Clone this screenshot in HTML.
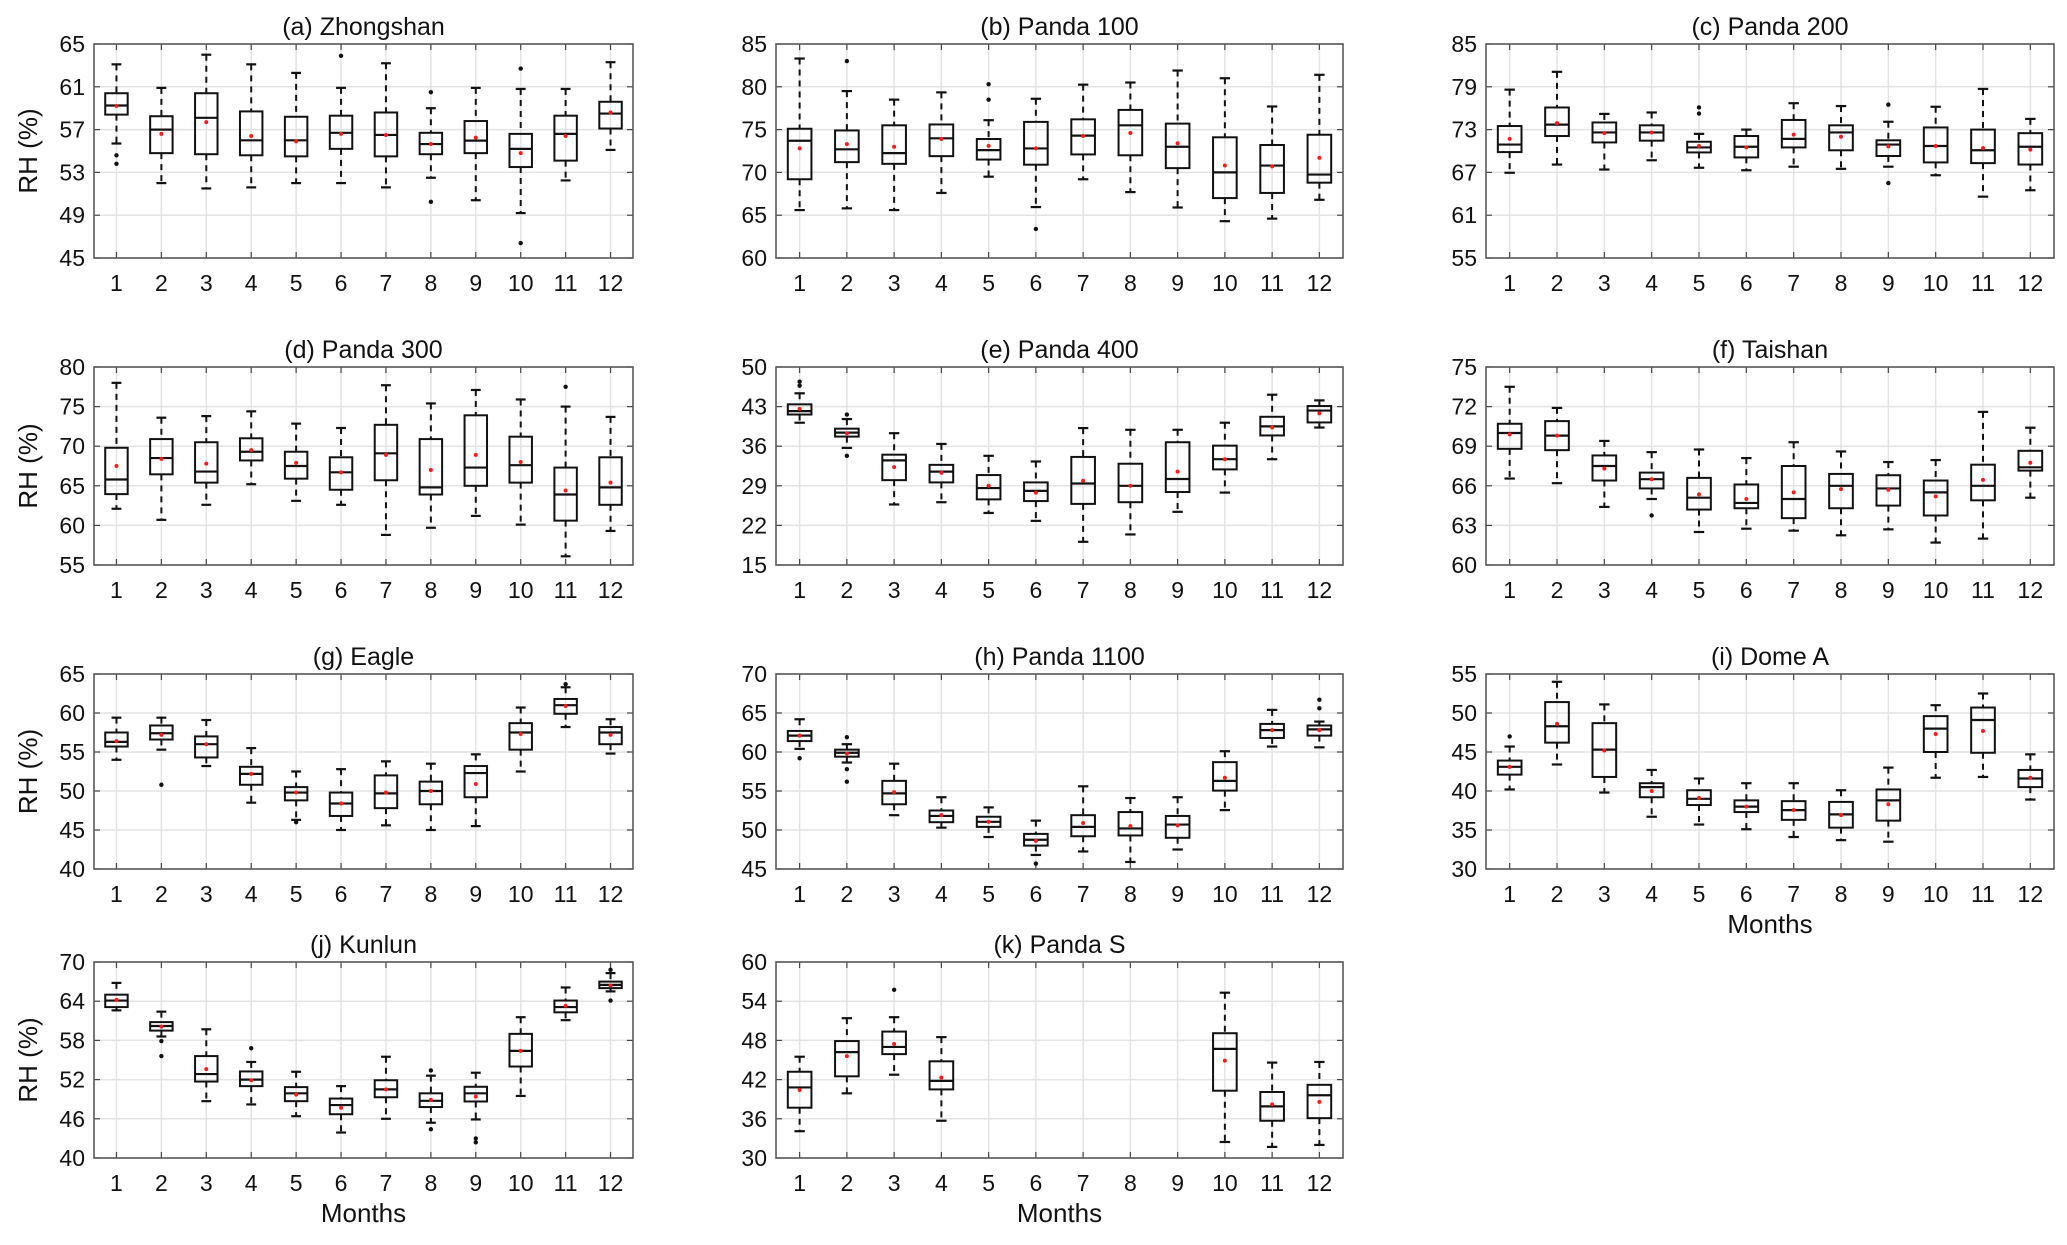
<!DOCTYPE html>
<html><head><meta charset="utf-8"><style>
html,body{margin:0;padding:0;background:#fff;}
svg text{font-family:"Liberation Sans",Arial,sans-serif;fill:#111;}
</style></head><body>
<svg id="fig" xmlns="http://www.w3.org/2000/svg" width="2067" height="1240" viewBox="0 0 2067 1240">
<rect x="0" y="0" width="2067" height="1240" fill="#fff"/>
</svg>
<script>
// each month: [lowWhisker, q1, median, q3, highWhisker, mean]
const months = [1,2,3,4,5,6,7,8,9,10,11,12];
const zhongshan = [[55.7,58.4,59.25,60.4,63.1,59.2],[52.0,54.8,57.0,58.25,60.9,56.6],[51.5,54.7,58.1,60.4,64.0,57.7],[51.6,54.6,56.0,58.7,63.1,56.4],[52.0,54.5,56.0,58.2,62.3,55.9],[52.0,55.2,56.7,58.3,60.9,56.6],[51.6,54.5,56.5,58.6,63.2,56.5],[52.5,54.7,55.65,56.7,59.0,55.65],[50.4,54.8,55.97,57.8,60.9,56.25],[49.2,53.5,55.2,56.6,60.8,54.8],[52.25,54.1,56.6,58.3,60.8,56.4],[55.1,57.1,58.5,59.6,63.3,58.6]];
const zhongshanOut = [[1,54.6],[1,53.8],[6,63.9],[8,60.5],[8,50.25],[10,62.7],[10,46.4]];
const zhongshanTicks = [45,49,53,57,61,65];
const panda100 = [[65.6,69.2,73.7,75.1,83.3,72.8],[65.8,71.2,72.7,74.9,79.5,73.3],[65.6,71.0,72.25,75.5,78.5,73.0],[67.6,71.9,73.98,75.6,79.35,73.9],[69.5,71.5,72.6,73.9,76.1,73.1],[65.95,70.9,72.8,75.9,78.6,72.8],[69.2,72.1,74.3,76.2,80.25,74.25],[67.7,72.0,75.5,77.3,80.5,74.6],[65.9,70.5,73.0,75.7,81.9,73.4],[64.3,67.0,70.0,74.1,81.0,70.8],[64.6,67.6,70.8,73.2,77.7,70.7],[66.8,68.8,69.75,74.4,81.4,71.7]];
const panda100Out = [[2,83.0],[5,80.3],[5,78.5],[6,63.4]];
const panda100Ticks = [60,65,70,75,80,85];
const panda200 = [[66.95,69.85,70.9,73.5,78.6,71.7],[68.1,72.1,73.7,76.1,81.1,73.9],[67.4,71.2,72.6,74.0,75.2,72.5],[68.7,71.45,72.6,73.6,75.4,72.6],[67.65,69.8,70.5,71.3,72.4,70.7],[67.3,69.1,70.6,72.1,73.0,70.5],[67.8,70.5,71.7,74.35,76.7,72.3],[67.5,70.1,72.6,73.6,76.3,72.0],[67.8,69.3,70.9,71.5,74.1,70.65],[66.6,68.4,70.7,73.3,76.2,70.7],[63.6,68.3,70.1,73.0,78.7,70.4],[64.5,68.1,70.6,72.5,74.5,70.2]];
const panda200Out = [[5,76.1],[5,75.25],[9,76.5],[9,65.5]];
const panda200Ticks = [55,61,67,73,79,85];
const panda300 = [[62.1,63.95,65.8,69.8,78.0,67.5],[60.7,66.45,68.5,70.9,73.6,68.4],[62.6,65.4,66.8,70.5,73.8,67.8],[65.2,68.2,69.3,71.0,74.4,69.5],[63.1,65.9,67.5,69.3,72.85,67.9],[62.6,64.5,66.7,68.6,72.3,66.7],[58.8,65.7,69.1,72.7,77.7,68.9],[59.7,63.9,64.8,70.9,75.4,67.0],[61.2,65.0,67.3,73.9,77.1,68.9],[60.1,65.4,67.6,71.2,75.9,68.0],[56.1,60.6,63.9,67.3,75.0,64.4],[59.3,62.6,64.8,68.6,73.7,65.4]];
const panda300Out = [[11,77.5]];
const panda300Ticks = [55,60,65,70,75,80];
const panda400 = [[40.15,41.6,42.2,43.4,45.35,42.6],[35.7,37.7,38.4,39.1,40.8,38.3],[25.7,30.0,33.5,34.5,38.3,32.3],[26.1,29.6,31.5,32.7,36.4,31.3],[24.2,26.6,28.6,30.9,34.3,29.0],[22.8,26.3,28.1,29.6,33.3,27.8],[19.1,25.8,29.4,34.1,39.2,29.9],[20.4,26.1,29.0,32.9,38.9,29.0],[24.4,27.9,30.2,36.7,38.9,31.5],[27.8,31.9,33.7,36.1,40.15,33.7],[33.7,37.9,39.5,41.2,45.1,39.3],[39.3,40.2,42.3,43.1,44.1,41.8]];
const panda400Out = [[1,47.4],[1,46.7],[2,41.6],[2,34.3]];
const panda400Ticks = [15,22,29,36,43,50];
const taishan = [[66.55,68.8,70.0,70.7,73.5,69.9],[66.2,68.7,69.8,70.9,71.9,69.8],[64.4,66.4,67.5,68.3,69.4,67.3],[65.0,65.8,66.5,67.0,68.55,66.5],[62.5,64.2,65.1,66.6,68.75,65.35],[62.75,64.3,64.7,66.1,68.1,65.0],[62.6,63.55,65.0,67.5,69.3,65.5],[62.25,64.3,66.0,66.9,68.6,65.75],[62.7,64.5,65.8,66.8,67.8,65.7],[61.7,63.75,65.5,66.4,67.95,65.2],[62.0,64.9,66.0,67.6,71.6,66.45],[65.1,67.15,67.4,68.65,70.4,67.75]];
const taishanOut = [[4,63.75]];
const taishanTicks = [60,63,66,69,72,75];
const eagle = [[54.0,55.7,56.3,57.5,59.4,56.4],[55.3,56.6,57.4,58.4,59.4,57.2],[53.2,54.3,56.0,57.0,59.1,56.0],[48.5,50.8,52.2,53.1,55.5,52.2],[46.3,48.8,49.8,50.5,52.5,49.8],[45.0,46.8,48.4,49.8,52.8,48.4],[45.6,47.8,49.7,52.0,53.8,49.8],[45.0,48.3,50.0,51.2,53.5,50.0],[45.5,49.2,52.3,53.2,54.7,50.9],[52.5,55.3,57.5,58.7,60.7,57.3],[58.2,59.9,61.0,61.8,63.3,60.9],[54.8,56.0,57.5,58.2,59.2,57.2]];
const eagleOut = [[2,50.8],[5,46.0],[11,63.7]];
const eagleTicks = [40,45,50,55,60,65];
const panda1100 = [[60.4,61.4,62.1,62.7,64.2,62.1],[58.65,59.4,59.9,60.3,61.0,59.8],[51.9,53.3,54.7,56.3,58.5,54.85],[50.3,51.0,51.8,52.5,54.2,51.9],[49.1,50.4,51.05,51.7,52.9,51.05],[46.8,48.0,48.75,49.5,51.2,48.6],[47.25,49.2,50.4,51.9,55.6,50.9],[45.9,49.3,50.2,52.3,54.1,50.5],[47.5,49.0,50.7,51.8,54.2,50.6],[52.55,55.05,56.3,58.7,60.1,56.7],[60.7,61.8,62.8,63.6,65.4,62.8],[60.6,62.1,62.9,63.4,63.9,62.8]];
const panda1100Out = [[1,59.2],[2,61.9],[2,57.8],[2,56.2],[6,45.7],[12,66.7],[12,65.6]];
const panda1100Ticks = [45,50,55,60,65,70];
const domeA = [[40.2,42.1,43.1,43.9,45.7,43.1],[43.4,46.2,48.3,51.4,54.0,48.6],[39.8,41.8,45.3,48.7,51.1,45.2],[36.7,39.2,40.5,41.0,42.7,40.0],[35.7,38.2,39.0,40.1,41.6,39.1],[35.1,37.3,38.0,38.8,41.0,38.0],[34.1,36.3,37.55,38.7,41.0,37.55],[33.7,35.3,37.0,38.6,40.1,36.9],[33.5,36.2,38.8,40.2,43.0,38.3],[41.7,45.0,48.0,49.6,51.0,47.3],[41.8,44.9,49.1,50.7,52.5,47.7],[38.9,40.5,41.6,42.7,44.7,41.7]];
const domeAOut = [[1,47.0]];
const domeATicks = [30,35,40,45,50,55];
const kunlun = [[62.6,63.1,64.1,65.0,66.8,64.2],[58.6,59.5,60.2,60.8,62.4,60.1],[48.7,51.7,52.85,55.6,59.7,53.6],[48.2,51.0,52.0,53.25,54.7,51.9],[46.4,48.7,49.9,50.85,53.2,49.7],[43.9,46.7,48.1,49.1,51.0,47.7],[46.0,49.3,50.5,51.9,55.5,50.5],[45.4,47.8,48.75,49.9,52.6,48.9],[45.9,48.65,49.9,50.9,53.05,49.4],[49.5,54.0,56.4,59.0,61.55,56.4],[61.1,62.3,63.1,64.1,66.1,63.3],[65.5,66.0,66.5,67.0,68.3,66.4]];
const kunlunOut = [[2,57.9],[2,55.6],[4,56.8],[8,53.4],[8,44.4],[9,43.0],[9,42.4],[12,68.8],[12,64.1]];
const kunlunTicks = [40,46,52,58,64,70];
const pandaS = [[34.1,37.7,40.8,43.2,45.5,40.4],[39.9,42.5,46.2,47.9,51.4,45.6],[42.75,45.9,47.0,49.35,51.55,47.45],[35.7,40.5,41.8,44.8,48.5,42.3],null,null,null,null,null,[32.45,40.3,46.7,49.1,55.3,44.9],[31.7,35.7,37.9,40.1,44.6,38.2],[32.0,36.1,39.6,41.2,44.7,38.6]];
const pandaSOut = [[3,55.75]];
const pandaSTicks = [30,36,42,48,54,60];

const SVGNS = "http://www.w3.org/2000/svg";
const svg = document.getElementById('fig');
function mk(tag, attrs, parent){
  const e = document.createElementNS(SVGNS, tag);
  for (const k in attrs) e.setAttribute(k, attrs[k]);
  (parent||svg).appendChild(e);
  return e;
}
const COLS = [[94,633],[776,1343],[1486,2054]];
const ROWS = [[44,258],[367,565],[674,869],[962,1158]];
const panels = [
  {id:'zhongshan', title:'(a) Zhongshan', c:0, r:0, d:zhongshan, o:zhongshanOut, t:zhongshanTicks, yl:true, xl:false},
  {id:'panda-100', title:'(b) Panda 100', c:1, r:0, d:panda100, o:panda100Out, t:panda100Ticks, yl:false, xl:false},
  {id:'panda-200', title:'(c) Panda 200', c:2, r:0, d:panda200, o:panda200Out, t:panda200Ticks, yl:false, xl:false},
  {id:'panda-300', title:'(d) Panda 300', c:0, r:1, d:panda300, o:panda300Out, t:panda300Ticks, yl:true, xl:false},
  {id:'panda-400', title:'(e) Panda 400', c:1, r:1, d:panda400, o:panda400Out, t:panda400Ticks, yl:false, xl:false},
  {id:'taishan', title:'(f) Taishan', c:2, r:1, d:taishan, o:taishanOut, t:taishanTicks, yl:false, xl:false},
  {id:'eagle', title:'(g) Eagle', c:0, r:2, d:eagle, o:eagleOut, t:eagleTicks, yl:true, xl:false},
  {id:'panda-1100', title:'(h) Panda 1100', c:1, r:2, d:panda1100, o:panda1100Out, t:panda1100Ticks, yl:false, xl:false},
  {id:'dome-a', title:'(i) Dome A', c:2, r:2, d:domeA, o:domeAOut, t:domeATicks, yl:false, xl:true},
  {id:'kunlun', title:'(j) Kunlun', c:0, r:3, d:kunlun, o:kunlunOut, t:kunlunTicks, yl:true, xl:true},
  {id:'panda-s', title:'(k) Panda S', c:1, r:3, d:pandaS, o:pandaSOut, t:pandaSTicks, yl:false, xl:true}
];

panels.forEach(p => {
  const x0 = COLS[p.c][0], x1 = COLS[p.c][1], y0 = ROWS[p.r][0], y1 = ROWS[p.r][1];
  const ymin = p.t[0], ymax = p.t[p.t.length-1];
  const sx = m => x0 + (m - 0.5) / 12 * (x1 - x0);
  const sy = v => y1 - (v - ymin) / (ymax - ymin) * (y1 - y0);
  const step = (x1 - x0) / 12;
  const g = mk('g', {});
  
  
  // grid
  p.t.forEach(v => {
    const l = mk('line', {x1:x0, x2:x1, y1:sy(v), y2:sy(v), stroke:'#e3e3e3', 'stroke-width':1.5}, g);
    
    
  });
  months.forEach(m => {
    const l = mk('line', {x1:sx(m), x2:sx(m), y1:y0, y2:y1, stroke:'#e3e3e3', 'stroke-width':1.5}, g);
    
    
  });
  // tick marks
  p.t.forEach(v => {
    mk('line', {x1:x0, x2:x0+6, y1:sy(v), y2:sy(v), stroke:'#444', 'stroke-width':1.2}, g);
    mk('line', {x1:x1, x2:x1-6, y1:sy(v), y2:sy(v), stroke:'#444', 'stroke-width':1.2}, g);
    const tx = mk('text', {x:x0-9, y:sy(v)+8, 'text-anchor':'end', 'font-size':23}, g);
    tx.textContent = v;
    
    
  });
  months.forEach(m => {
    mk('line', {x1:sx(m), x2:sx(m), y1:y1, y2:y1-6, stroke:'#444', 'stroke-width':1.2}, g);
    mk('line', {x1:sx(m), x2:sx(m), y1:y0, y2:y0+6, stroke:'#444', 'stroke-width':1.2}, g);
    const tx = mk('text', {x:sx(m), y:y1+33, 'text-anchor':'middle', 'font-size':23}, g);
    tx.textContent = m;
    
    
  });
  // boxes
  p.d.forEach((b, i) => {
    if (!b) return;
    const cx = sx(months[i]), bw = step * 0.5, cw = step * 0.22;
    const bg = mk('g', {}, g);
    
    
    mk('line', {x1:cx, x2:cx, y1:sy(b[4]), y2:sy(b[3]), stroke:'#111', 'stroke-width':2, 'stroke-dasharray':'6,5'}, bg);
    mk('line', {x1:cx, x2:cx, y1:sy(b[1]), y2:sy(b[0]), stroke:'#111', 'stroke-width':2, 'stroke-dasharray':'6,5'}, bg);
    mk('line', {x1:cx-cw/2, x2:cx+cw/2, y1:sy(b[4]), y2:sy(b[4]), stroke:'#111', 'stroke-width':2.2}, bg);
    mk('line', {x1:cx-cw/2, x2:cx+cw/2, y1:sy(b[0]), y2:sy(b[0]), stroke:'#111', 'stroke-width':2.2}, bg);
    mk('rect', {x:cx-bw/2, y:sy(b[3]), width:bw, height:sy(b[1])-sy(b[3]), fill:'none', stroke:'#111', 'stroke-width':2}, bg);
    mk('line', {x1:cx-bw/2, x2:cx+bw/2, y1:sy(b[2]), y2:sy(b[2]), stroke:'#111', 'stroke-width':2.2}, bg);
    const mean = mk('circle', {cx:cx, cy:sy(b[5]), r:2, fill:'#ff1a1a'}, bg);
    
    
  });
  p.o.forEach(o => {
    const c = mk('circle', {cx:sx(o[0]), cy:sy(o[1]), r:2.2, fill:'#111'}, g);
    
    
  });
  // frame
  const fr = mk('rect', {x:x0, y:y0, width:x1-x0, height:y1-y0, fill:'none', stroke:'#5a5a5a', 'stroke-width':1.6}, g);
  
  
  const tt = mk('text', {x:(x0+x1)/2, y:y0-9, 'text-anchor':'middle', 'font-size':25}, g);
  tt.textContent = p.title;
  
  
  if (p.yl) {
    const yc = (y0+y1)/2;
    const yt = mk('text', {x:0, y:0, 'text-anchor':'middle', 'font-size':26, transform:'translate(37,'+yc+') rotate(-90)'}, g);
    yt.textContent = 'RH (%)';
    
    
  }
  if (p.xl) {
    const xt = mk('text', {x:(x0+x1)/2, y:y1+64, 'text-anchor':'middle', 'font-size':26}, g);
    xt.textContent = 'Months';
    
    
  }
});
</script>
</body></html>
